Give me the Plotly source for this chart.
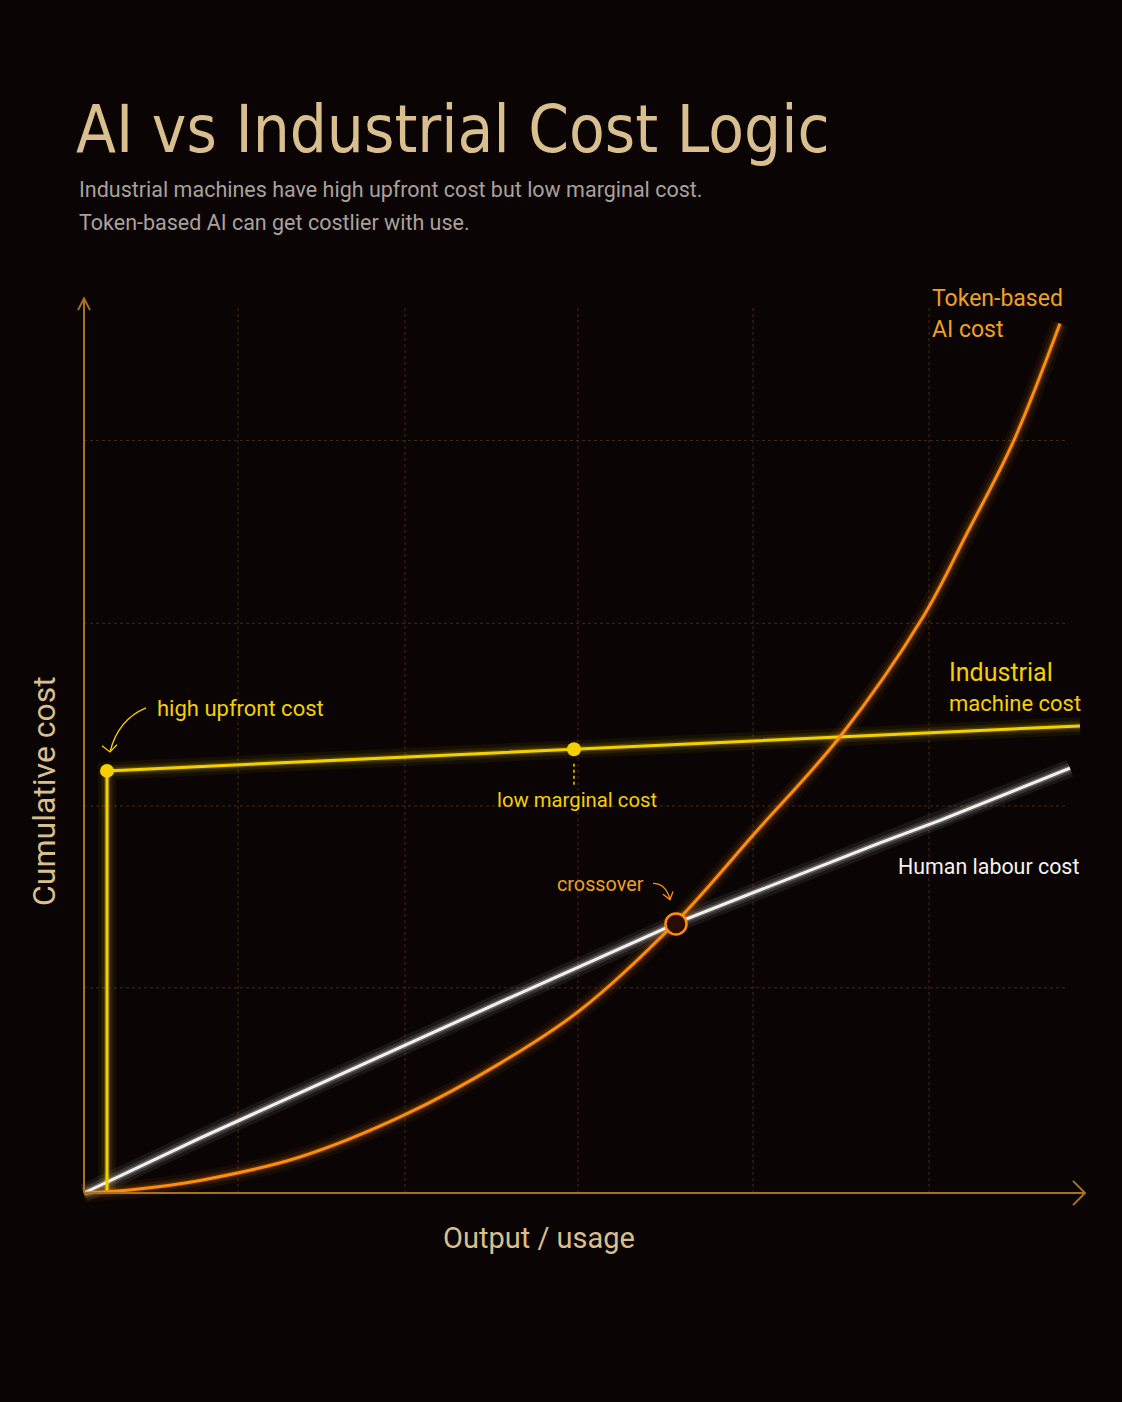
import plotly.graph_objects as go

# ---- data (x: output/usage, y: cumulative cost; arbitrary units) ----
token_x = [0, 5.0, 11.6, 21.6, 32.1, 41.6, 49.6, 59.1, 67.1, 75.6, 83.9, 88.3, 92.9, 97.6]
token_y = [0, 0.4, 1.4, 4.0, 8.7, 14.4, 20.3, 30.0, 40.0, 50.7, 64.0, 73.3, 83.4, 96.6]

human_x = [0, 11.6, 41.6, 59.9, 79.6, 85.6, 98.6]
human_y = [0, 6.1, 21.2, 30.3, 38.9, 41.4, 47.2]

industrial_x = [2.3, 2.3, 99.6]
industrial_y = [0, 46.9, 51.9]

upfront_point = (2.3, 46.9)
marginal_point = (49.0, 49.3)
crossover_point = (59.2, 29.9)

grid_x = [15.4, 32.1, 49.4, 66.9, 84.5]
grid_y = [22.8, 43.0, 63.3, 83.6]

BG = "#0a0405"
AXIS = "#a8721e"
GRID = "#40291b"
YELLOW = "#f5d000"
ORANGE = "#ff8c0a"
WHITE = "#f4f2ee"
BEIGE = "#d9bf8e"

fig = go.Figure()

def glow(x, y, color, shape="linear", strength=1.0):
    for w, op in [(18, 0.05), (11, 0.09), (6, 0.18)]:
        fig.add_trace(go.Scatter(x=x, y=y, mode="lines",
                                 line=dict(color=color, width=w, shape=shape, smoothing=1.0),
                                 opacity=op * strength, hoverinfo="skip", showlegend=False))

glow(human_x, human_y, WHITE, strength=1.4)
glow(industrial_x, industrial_y, YELLOW)
glow(token_x, token_y, ORANGE, "spline")

fig.add_trace(go.Scatter(x=human_x, y=human_y, mode="lines", line=dict(color=WHITE, width=3),
                         showlegend=False, name="Human labour cost"))
fig.add_trace(go.Scatter(x=industrial_x, y=industrial_y, mode="lines", line=dict(color=YELLOW, width=3),
                         showlegend=False, name="Industrial machine cost"))
fig.add_trace(go.Scatter(x=token_x, y=token_y, mode="lines",
                         line=dict(color=ORANGE, width=3, shape="spline", smoothing=1.0),
                         showlegend=False, name="Token-based AI cost"))

# dashed marker below low marginal cost point
fig.add_trace(go.Scatter(x=[marginal_point[0], marginal_point[0]],
                         y=[marginal_point[1] - 1.6, marginal_point[1] - 4.2],
                         mode="lines", line=dict(color=YELLOW, width=1.5, dash="3px,3px"), showlegend=False))

# dots
fig.add_trace(go.Scatter(x=[upfront_point[0], marginal_point[0]], y=[upfront_point[1], marginal_point[1]],
                         mode="markers", marker=dict(color=YELLOW, size=14, line=dict(width=0)), showlegend=False))
fig.add_trace(go.Scatter(x=[crossover_point[0]], y=[crossover_point[1]], mode="markers",
                         marker=dict(color="#2a0c02", size=21, line=dict(color=ORANGE, width=2.5)),
                         showlegend=False))

shapes = []
for gx in grid_x:
    shapes.append(dict(type="line", x0=gx, x1=gx, y0=0, y1=98.4, xref="x", yref="y",
                       line=dict(color=GRID, width=1, dash="dot"), layer="below"))
for gy in grid_y:
    shapes.append(dict(type="line", x0=0, x1=98.4, y0=gy, y1=gy, xref="x", yref="y",
                       line=dict(color=GRID, width=1, dash="dot"), layer="below"))
shapes.append(dict(type="line", x0=0, x1=100.1, y0=0, y1=0, line=dict(color=AXIS, width=2)))
shapes.append(dict(type="line", x0=0, x1=0, y0=0, y1=99.4, line=dict(color=AXIS, width=2)))
shapes.append(dict(type="path", path="M 98.9,1.35 L 100.1,0 L 98.9,-1.35", line=dict(color=AXIS, width=2)))
shapes.append(dict(type="path", path="M -0.6,98.1 L 0,99.4 L 0.6,98.1", line=dict(color=AXIS, width=2)))
shapes.append(dict(type="path", path="M 6.2,53.9 Q 3.4,52.6 2.6,49.0", line=dict(color=YELLOW, width=1.3)))
shapes.append(dict(type="path", path="M 1.8,49.7 L 2.6,49.0 L 3.3,49.8", line=dict(color=YELLOW, width=1.3)))
shapes.append(dict(type="path", path="M 56.9,34.4 Q 58.2,34.4 58.6,32.6", line=dict(color=ORANGE, width=1.3)))
shapes.append(dict(type="path", path="M 57.9,33.2 L 58.6,32.6 L 58.9,33.5", line=dict(color=ORANGE, width=1.3)))

# plot area: x range [-3,103] over px 54..1114 ; y range [-3,103] over px 1220..266
L, R, T, B = 54, 8, 266, 182
PW, PH = 1122 - L - R, 1402 - T - B

def pap_x(px):
    return (px - L) / PW

def pap_y(py):
    return (1402 - B - py) / PH

SANS = "Roboto, Liberation Sans, sans-serif"
NARROW = "DejaVu Sans Condensed, Roboto, sans-serif"

ann = []
def text(t, px, py, size, color, xanchor="left", font=SANS, angle=0):
    ann.append(dict(text=t, x=pap_x(px), y=pap_y(py), xref="paper", yref="paper", showarrow=False,
                    xanchor=xanchor, yanchor="middle", textangle=angle,
                    font=dict(family=font, size=size, color=color)))

text("AI vs Industrial Cost Logic", 74, 129, 65, BEIGE, font=NARROW)
text("Industrial machines have high upfront cost but low marginal cost.", 77, 190, 21.5, "#a9a19d")
text("Token-based AI can get costlier with use.", 77, 222, 21.5, "#a9a19d")
text("Cumulative cost", 44, 791, 32, BEIGE, xanchor="center", angle=-90)
text("Output / usage", 539, 1238, 29, BEIGE, xanchor="center")
text("Token-based", 930, 298, 23, "#f0a020")
text("AI cost", 930, 329, 23, "#f0a020")
text("Industrial", 947, 672, 25, YELLOW)
text("machine cost", 947, 703, 22, YELLOW)
text("Human labour cost", 1081, 866, 21.4, WHITE, xanchor="right")
text("high upfront cost", 155, 708, 22, YELLOW)
text("low marginal cost", 577, 800, 20.3, YELLOW, xanchor="center")
text("crossover", 646, 884, 19.8, "#f0a020", xanchor="right")

fig.update_layout(
    width=1122, height=1402,
    paper_bgcolor=BG, plot_bgcolor=BG,
    margin=dict(l=L, r=R, t=T, b=B),
    xaxis=dict(range=[-3, 103], visible=False, fixedrange=True),
    yaxis=dict(range=[-3, 103], visible=False, fixedrange=True),
    shapes=shapes, annotations=ann, showlegend=False,
)

fig.write_html("out.html", config={"displayModeBar": False},
               post_script="document.body.style.margin='0';document.body.style.background='#0a0405';")
